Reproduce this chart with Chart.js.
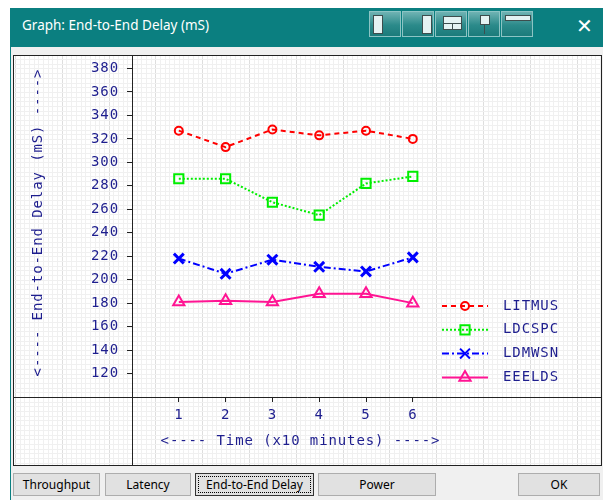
<!DOCTYPE html>
<html>
<head>
<meta charset="utf-8">
<script src="https://cdn.jsdelivr.net/npm/chart.js@4/dist/chart.umd.min.js"></script>
<style>
body { margin:0; width:603px; height:500px; background:#fff; position:relative; overflow:hidden; font-family:"Noto Sans", sans-serif; }
.abs { position:absolute; }
#titlebar { left:10px; top:8px; width:593px; height:39px; background:#0b7f80; }
#title { left:22px; top:16px; color:#fff; font-size:13.5px; line-height:18px; }
#close { left:576px; top:14px; color:#fff; font-size:20px; line-height:24px; }
.tb { top:11px; width:32px; height:26px; border:1px solid #8cc4c4; background:linear-gradient(#6fb3b3,#2b8a8a 55%,#1b7b7b); box-sizing:border-box; }
.ic { position:absolute; background:#e4f2f2; border:1px solid #3d4d4d; box-sizing:border-box; }
#body { left:10px; top:47px; width:593px; height:453px; background:#f0f0f0; border-left:1px solid #0b7f80; box-sizing:border-box; }
#c { left:13px; top:55px; }
.btn { top:473px; height:23px; background:#e1e1e1; border:1px solid #adadad; box-sizing:border-box; font-size:12px; line-height:21px; text-align:center; color:#000; }
</style>
</head>
<body>
<div id="titlebar" class="abs"></div>
<div id="title" class="abs">Graph: End-to-End Delay (mS)</div>
<div class="abs tb" style="left:369px"><div class="ic" style="left:3px;top:3px;width:10px;height:19px"></div></div>
<div class="abs tb" style="left:402px"><div class="ic" style="left:19px;top:3px;width:10px;height:19px"></div></div>
<div class="abs tb" style="left:435px"><div class="ic" style="left:7px;top:4px;width:19px;height:8px"></div><div class="ic" style="left:7px;top:11px;width:10px;height:7px"></div><div class="ic" style="left:16px;top:11px;width:10px;height:7px"></div></div>
<div class="abs tb" style="left:468px"><div class="ic" style="left:11px;top:3px;width:10px;height:10px"></div><div class="abs" style="left:15px;top:13px;width:1px;height:9px;background:#3d4d4d"></div></div>
<div class="abs tb" style="left:501px"><div class="ic" style="left:3px;top:3px;width:26px;height:6px"></div></div>
<div id="close" class="abs">✕</div>
<div id="body" class="abs"></div>
<canvas id="c" class="abs" width="589" height="411" style="width:589px;height:411px"></canvas>
<div class="abs btn" style="left:13px;width:87px">Throughput</div>
<div class="abs btn" style="left:105px;width:86px">Latency</div>
<div class="abs btn" style="left:195px;width:119px;border:1px solid #333;padding:0">
  <div style="margin:2px;border:1px dotted #000;line-height:15px">End-to-End Delay</div></div>
<div class="abs btn" style="left:318px;width:118px">Power</div>
<div class="abs btn" style="left:518px;width:82px">OK</div>
<script>
// values
var times = [1, 2, 3, 4, 5, 6];
var litmus = [327, 313, 328, 323, 327, 320];
var ldcspc = [286, 286, 266, 255, 282, 288];
var ldmwsn = [218, 205, 217, 211, 207, 219];
var eeelds = [181, 182, 181, 188, 188, 180];
var seriesNames = ['LITMUS', 'LDCSPC', 'LDMWSN', 'EEELDS'];
var yTicks = [120, 140, 160, 180, 200, 220, 240, 260, 280, 300, 320, 340, 360, 380];

var ink = '#1e1e8e';
var mono = '"DejaVu Sans Mono", monospace';

function pts(vals) {
    var out = [];
    for (var i = 0; i < times.length; i++) out.push({x: times[i], y: vals[i]});
    return out;
}

var styles = [
    {color: '#ff0000', dash: [5, 4], point: 'circle', r: 4, pw: 2},
    {color: '#00ee00', dash: [2, 2], point: 'rect', r: 6.5, pw: 2},
    {color: '#0000ff', dash: [7, 3, 2, 3], point: 'crossRot', r: 7, pw: 3},
    {color: '#ff1493', dash: [], point: 'triangle', r: 6.5, pw: 2}
];
var allVals = [litmus, ldcspc, ldmwsn, eeelds];

var sets = [];
for (var i = 0; i < 4; i++) {
    sets.push({
        label: seriesNames[i],
        data: pts(allVals[i]),
        borderColor: styles[i].color,
        borderDash: styles[i].dash,
        borderWidth: 2,
        pointStyle: styles[i].point,
        pointRadius: styles[i].r,
        pointBorderWidth: styles[i].pw,
        pointBorderColor: styles[i].color,
        pointBackgroundColor: 'rgba(0,0,0,0)',
        tension: 0,
        fill: false
    });
}

function noPad(s) {
    s.paddingTop = 0; s.paddingBottom = 0; s.paddingLeft = 0; s.paddingRight = 0;
}

var frame = {
    id: 'frame',
    beforeDraw: function(chart) {
        var ctx = chart.ctx, x = chart.scales.x, y = chart.scales.y;
        var w = chart.width, h = chart.height;
        ctx.save();
        ctx.fillStyle = '#fff';
        ctx.fillRect(0, 0, w, h);
        ctx.lineWidth = 1;
        for (var k = -30; k <= 110; k++) {
            var px = Math.round(x.getPixelForValue(k / 10)) + 0.5;
            if (px < 0 || px > w) continue;
            ctx.strokeStyle = (k % 10 === 5 || k % 10 === -5) ? '#dedede' : '#f0f0f0';
            ctx.beginPath(); ctx.moveTo(px, 0); ctx.lineTo(px, h); ctx.stroke();
        }
        for (var v = 0; v <= 420; v += 4) {
            var py = Math.round(y.getPixelForValue(v)) + 0.5;
            if (py < 0 || py > h) continue;
            ctx.strokeStyle = '#f0f0f0';
            ctx.beginPath(); ctx.moveTo(0, py); ctx.lineTo(w, py); ctx.stroke();
        }
        ctx.restore();
        ctx.letterSpacing = '0.9px';
    },
    afterDraw: function(chart) {
        var ctx = chart.ctx, x = chart.scales.x, y = chart.scales.y;
        var w = chart.width, h = chart.height;
        ctx.save();
        ctx.strokeStyle = '#222';
        ctx.lineWidth = 1;
        ctx.beginPath();
        ctx.moveTo(Math.round(x.left) + 0.5, 0); ctx.lineTo(Math.round(x.left) + 0.5, h);
        ctx.moveTo(0, Math.round(y.bottom) + 0.5); ctx.lineTo(w, Math.round(y.bottom) + 0.5);
        ctx.stroke();
        ctx.strokeRect(0.5, 0.5, w - 1, h - 1);

        ctx.fillStyle = ink;
        ctx.font = '14px ' + mono;
        ctx.letterSpacing = '0.9px';
        ctx.textBaseline = 'middle';
        ctx.textAlign = 'center';
        ctx.fillText('<---- Time (x10 minutes) ---->', x.getPixelForValue(3.6), 386.5);
        ctx.save();
        ctx.translate(25, 167.5);
        ctx.rotate(-Math.PI / 2);
        ctx.fillText('<---- End-to-End Delay (mS) ---->', 0, 0);
        ctx.restore();

        // legend
        for (var i = 0; i < chart.data.datasets.length; i++) {
            var ds = chart.data.datasets[i];
            var ry = 251 + 23.8 * i;
            ctx.save();
            ctx.strokeStyle = ds.borderColor;
            ctx.lineWidth = 2;
            ctx.setLineDash(ds.borderDash);
            ctx.beginPath(); ctx.moveTo(429, ry); ctx.lineTo(475, ry); ctx.stroke();
            ctx.setLineDash([]);
            ctx.fillStyle = 'rgba(0,0,0,0)';
            Chart.helpers.drawPoint(ctx, {pointStyle: ds.pointStyle, radius: ds.pointRadius, rotation: 0, borderWidth: ds.pointBorderWidth}, 452, ry);
            ctx.restore();
            ctx.fillStyle = ink;
            ctx.textAlign = 'left';
            ctx.fillText(ds.label, 490, ry);
        }
        ctx.restore();
    }
};

new Chart(document.getElementById('c'), {
    type: 'line',
    data: {datasets: sets},
    options: {
        responsive: false,
        animation: false,
        devicePixelRatio: 1,
        layout: {autoPadding: false, padding: {left: 0, right: 2, top: 0, bottom: 0}},
        plugins: {legend: {display: false}, tooltip: {enabled: false}, title: {display: false}},
        scales: {
            x: {
                type: 'linear', min: 0, max: 10,
                afterBuildTicks: function(s) { s.ticks = times.map(function(v) { return {value: v}; }); },
                afterFit: function(s) { s.height = 69; noPad(s); },
                grid: {drawOnChartArea: false, drawTicks: true, tickLength: 5, tickColor: '#222'},
                border: {display: false},
                ticks: {color: ink, font: {family: mono, size: 14}, padding: 5, autoSkip: false, maxRotation: 0}
            },
            y: {
                min: 100, max: 391.5,
                afterBuildTicks: function(s) { s.ticks = yTicks.map(function(v) { return {value: v}; }); },
                afterFit: function(s) { s.width = 119; noPad(s); },
                grid: {drawOnChartArea: false, drawTicks: true, tickLength: 5, tickColor: '#222'},
                border: {display: false},
                ticks: {color: ink, font: {family: mono, size: 14}, padding: 8, autoSkip: false}
            }
        }
    },
    plugins: [frame]
});
</script>
</body>
</html>
